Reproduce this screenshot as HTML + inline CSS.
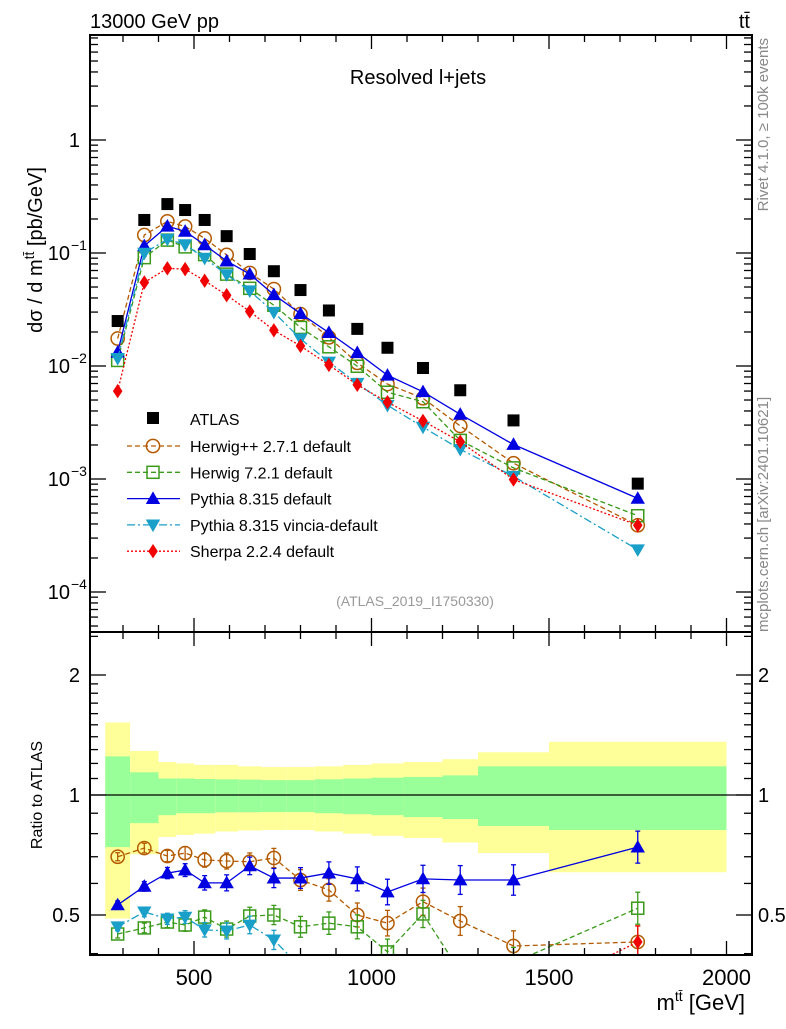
<!DOCTYPE html>
<html><head><meta charset="utf-8"><style>
body{margin:0;background:#fff}
svg{font-family:"Liberation Sans",sans-serif}
</style></head><body>
<svg id="c" width="786" height="1024" viewBox="0 0 786 1024" xmlns="http://www.w3.org/2000/svg"></svg>
<script>
const edges=[250,320,400,450,500,560,625,690,760,840,920,1000,1090,1200,1300,1500,2000];
const centers=[285,360,425,475,530,592,657,725,800,880,960,1045,1145,1250,1400,1750];
const atlas=[0.025,0.196,0.271,0.24,0.196,0.141,0.098,0.069,0.047,0.031,0.0213,0.0145,0.0096,0.0061,0.0033,0.00091];
const rHerwigpp=[0.70,0.736,0.703,0.715,0.687,0.683,0.68,0.695,0.612,0.578,0.50,0.477,0.54,0.483,0.418,0.428];
const rHerwig7=[0.448,0.464,0.48,0.472,0.494,0.461,0.497,0.50,0.467,0.477,0.467,0.404,0.503,0.36,0.38,0.52];
const rPythia=[0.53,0.59,0.637,0.648,0.602,0.602,0.664,0.619,0.619,0.637,0.616,0.571,0.616,0.612,0.612,0.74];
const rVincia=[0.467,0.509,0.489,0.494,0.459,0.456,0.472,0.433,0.37,0.35,0.33,0.31,0.30,0.30,0.32,0.26];
const rSherpa=[0.24,0.28,0.27,0.30,0.29,0.30,0.31,0.30,0.32,0.33,0.32,0.33,0.34,0.35,0.30,0.428];
const yellowHi=[1.52,1.29,1.21,1.20,1.19,1.19,1.18,1.175,1.175,1.18,1.19,1.20,1.21,1.23,1.28,1.36];
const greenHi=[1.25,1.14,1.10,1.10,1.097,1.095,1.093,1.09,1.09,1.095,1.10,1.105,1.11,1.12,1.18,1.18];
const greenLo=[0.74,0.85,0.89,0.90,0.90,0.905,0.905,0.906,0.906,0.90,0.895,0.89,0.88,0.87,0.836,0.817];
const yellowLo=[0.49,0.71,0.785,0.794,0.80,0.81,0.815,0.817,0.817,0.81,0.80,0.79,0.78,0.76,0.715,0.64];
const xTicks=[500,1000,1500,2000];
const series=[
 {name:'Herwig++ 2.7.1 default',r:rHerwigpp,col:'#b35a00',dash:'5,3',mk:'circle',key:'herwigpp'},
 {name:'Herwig 7.2.1 default',r:rHerwig7,col:'#3a9a1a',dash:'5,3',mk:'square',key:'herwig7'},
 {name:'Pythia 8.315 default',r:rPythia,col:'#0000e0',dash:'',mk:'tri',key:'pythia'},
 {name:'Pythia 8.315 vincia-default',r:rVincia,col:'#1a9fc8',dash:'8,3,2,3',mk:'itri',key:'vincia'},
 {name:'Sherpa 2.2.4 default',r:rSherpa,col:'#f00000',dash:'2,2',mk:'diamond',key:'sherpa'}
];
const NS='http://www.w3.org/2000/svg',svg=document.getElementById('c');
const L=90,R=752,T=35,MB=632,RB=955;
const X=v=>194+(v-500)*0.355;
const YM=v=>140-113*Math.log10(v);
const YR=v=>795-120*Math.log2(v);
function el(t,a,p){const e=document.createElementNS(NS,t);for(const k in a)e.setAttribute(k,a[k]);(p||svg).appendChild(e);return e;}
const defs=el('defs',{});
const c1=el('clipPath',{id:'cm'},defs);el('rect',{x:L,y:T,width:R-L,height:MB-T},c1);
const c2=el('clipPath',{id:'cr'},defs);el('rect',{x:L,y:MB,width:R-L,height:RB-MB},c2);
const gb=el('g',{'clip-path':'url(#cr)'});

for(let i=0;i<centers.length;i++){
 const x0=X(edges[i]),x1=X(edges[i+1]);
 const y=el('rect',{x:x0,y:YR(yellowHi[i]),width:x1-x0,height:YR(yellowLo[i])-YR(yellowHi[i]),fill:'#ffff99'},gb);
 
 const g=el('rect',{x:x0,y:YR(greenHi[i]),width:x1-x0,height:YR(greenLo[i])-YR(greenHi[i]),fill:'#99ff99'},gb);
 
}
el('line',{x1:L,x2:R,y1:YR(1),y2:YR(1),stroke:'#000','stroke-width':1.2});
function marker(g,mk,x,y,col,s){
 if(mk==='circle')return el('circle',{cx:x,cy:y,r:s*0.55,fill:'none',stroke:col,'stroke-width':1.5},g);
 if(mk==='square')return el('rect',{x:x-s*0.5,y:y-s*0.5,width:s,height:s,fill:'none',stroke:col,'stroke-width':1.5},g);
 if(mk==='fsquare')return el('rect',{x:x-s*0.5,y:y-s*0.5,width:s,height:s,fill:col},g);
 if(mk==='tri')return el('polygon',{points:`${x},${y-s*0.6} ${x-s*0.6},${y+s*0.45} ${x+s*0.6},${y+s*0.45}`,fill:col},g);
 if(mk==='itri')return el('polygon',{points:`${x},${y+s*0.6} ${x-s*0.6},${y-s*0.45} ${x+s*0.6},${y-s*0.45}`,fill:col},g);
 if(mk==='diamond')return el('polygon',{points:`${x},${y-s*0.6} ${x-s*0.4},${y} ${x},${y+s*0.6} ${x+s*0.4},${y}`,fill:col},g);
}
series.forEach(s=>{
 const vals=s.r.map((r,i)=>r*atlas[i]);
 const g=el('g',{'clip-path':'url(#cm)'});
 
 el('polyline',{points:vals.map((v,i)=>X(centers[i])+','+YM(v)).join(' '),fill:'none',stroke:s.col,'stroke-width':1.3,'stroke-dasharray':s.dash},g);
 vals.forEach((v,i)=>{const m=marker(g,s.mk,X(centers[i]),YM(v),s.col,12);
  });
 const gr=el('g',{'clip-path':'url(#cr)'});
 
 el('polyline',{points:s.r.map((v,i)=>X(centers[i])+','+YR(v)).join(' '),fill:'none',stroke:s.col,'stroke-width':1.3,'stroke-dasharray':s.dash},gr);
 s.r.forEach((v,i)=>{const x=X(centers[i]),y=YR(v),e=4+i*0.8;
  el('line',{x1:x,x2:x,y1:y-e,y2:y+e,stroke:s.col,'stroke-width':1.3},gr);
  el('line',{x1:x-2.5,x2:x+2.5,y1:y-e,y2:y-e,stroke:s.col,'stroke-width':1.3},gr);
  el('line',{x1:x-2.5,x2:x+2.5,y1:y+e,y2:y+e,stroke:s.col,'stroke-width':1.3},gr);
  const m=marker(gr,s.mk,x,y,s.col,12);
  });
});
const ga=el('g',{'clip-path':'url(#cm)'});

atlas.forEach((v,i)=>{const m=marker(ga,'fsquare',X(centers[i]),YM(v),'#000',12);
 });
el('rect',{x:L,y:T,width:R-L,height:MB-T,fill:'none',stroke:'#000','stroke-width':2});
el('rect',{x:L,y:MB,width:R-L,height:RB-MB,fill:'none',stroke:'#000','stroke-width':2});
function tk(x1,y1,x2,y2){el('line',{x1,y1,x2,y2,stroke:'#000','stroke-width':1.3});}
for(let v=300;v<=2100;v+=100){const x=X(v);if(x<L||x>R)continue;const big=v%500===0;const l=big?14:7;
 [[T,1],[MB,-1],[MB,1],[RB,-1]].forEach(([y,d])=>tk(x,y,x,y+d*l));}
xTicks.forEach(v=>{const t=el('text',{x:X(v),y:985,'font-size':22,'text-anchor':'middle'});t.textContent=v;
 });
for(let e=-5;e<=0;e++)for(let k=1;k<10;k++){const v=k*Math.pow(10,e),y=YM(v);if(y<T||y>MB)continue;const l=k===1?16:8;tk(L,y,L+l,y);tk(R,y,R-l,y);}
const yLab=[['1',0],['10','−1'],['10','−2'],['10','−3'],['10','−4']];
yLab.forEach((a,i)=>{const y=YM(Math.pow(10,-i));const t=el('text',{x:a[1]?70:80,y:y+7,'font-size':20,'text-anchor':'end'});
 t.textContent=a[0];
 if(a[1]){const s=el('text',{x:71,y:y-3,'font-size':14});s.textContent=a[1];}});
[0.4,0.5,0.6,0.7,0.8,0.9,1,1.1,1.2,1.3,1.4,1.5,1.6,1.7,1.8,1.9,2,2.5].forEach(v=>{const y=YR(v);if(y<MB||y>RB)return;const l=(v===0.5||v===1||v===2)?16:8;tk(L,y,L+l,y);tk(R,y,R-l,y);});
[['2',2],['1',1],['0.5',0.5]].forEach(a=>{const y=YR(a[1])+7;
 let t=el('text',{x:80,y,'font-size':20,'text-anchor':'end'});t.textContent=a[0];
 t=el('text',{x:758,y,'font-size':20});t.textContent=a[0];});
const lg=el('g',{});
let e=el('rect',{x:147,y:412,width:12,height:12,fill:'#000'},lg);
e=el('text',{x:190,y:425,'font-size':16},lg);e.textContent='ATLAS';
series.forEach((s,i)=>{const y=446+i*26.3;
 el('line',{x1:127,x2:180,y1:y,y2:y,stroke:s.col,'stroke-width':1.3,'stroke-dasharray':s.dash},lg);
 marker(lg,s.mk,153,y,s.col,12);
 const t=el('text',{x:190,y:y+6,'font-size':16},lg);t.textContent=s.name;
 });
function txt(x,y,s,attrs,name){const t=el('text',Object.assign({x,y},attrs));t.innerHTML=s;return t;}
txt(90,28,'13000 GeV pp',{'font-size':20},'beam-label');
txt(750,28,'tt̄',{'font-size':20,'text-anchor':'end'},'process-label');
txt(418,84,'Resolved l+jets',{'font-size':20,'text-anchor':'middle'},'plot-title');
txt(415,606,'(ATLAS_2019_I1750330)',{'font-size':14,fill:'#999','text-anchor':'middle'},'analysis-id');
txt(0,0,'dσ / d m<tspan dy="-8" font-size="14">tt̄</tspan><tspan dy="8"> [pb/GeV]</tspan>',{'font-size':20,transform:'translate(42,250) rotate(-90)','text-anchor':'middle'},'y-axis-title');
txt(0,0,'Ratio to ATLAS',{'font-size':16,transform:'translate(42,795) rotate(-90)','text-anchor':'middle'},'ratio-axis-title');
txt(0,0,'Rivet 4.1.0, ≥ 100k events',{'font-size':15,fill:'#888',transform:'translate(768,38) rotate(-90)','text-anchor':'end'},'rivet-label');
txt(0,0,'mcplots.cern.ch [arXiv:2401.10621]',{'font-size':15,fill:'#888',transform:'translate(768,632) rotate(-90)'},'mcplots-label');
txt(745,1010,'m<tspan dy="-9" font-size="14">tt̄</tspan><tspan dy="9"> [GeV]</tspan>',{'font-size':22,'text-anchor':'end'},'x-axis-title');
</script>
</body></html>
